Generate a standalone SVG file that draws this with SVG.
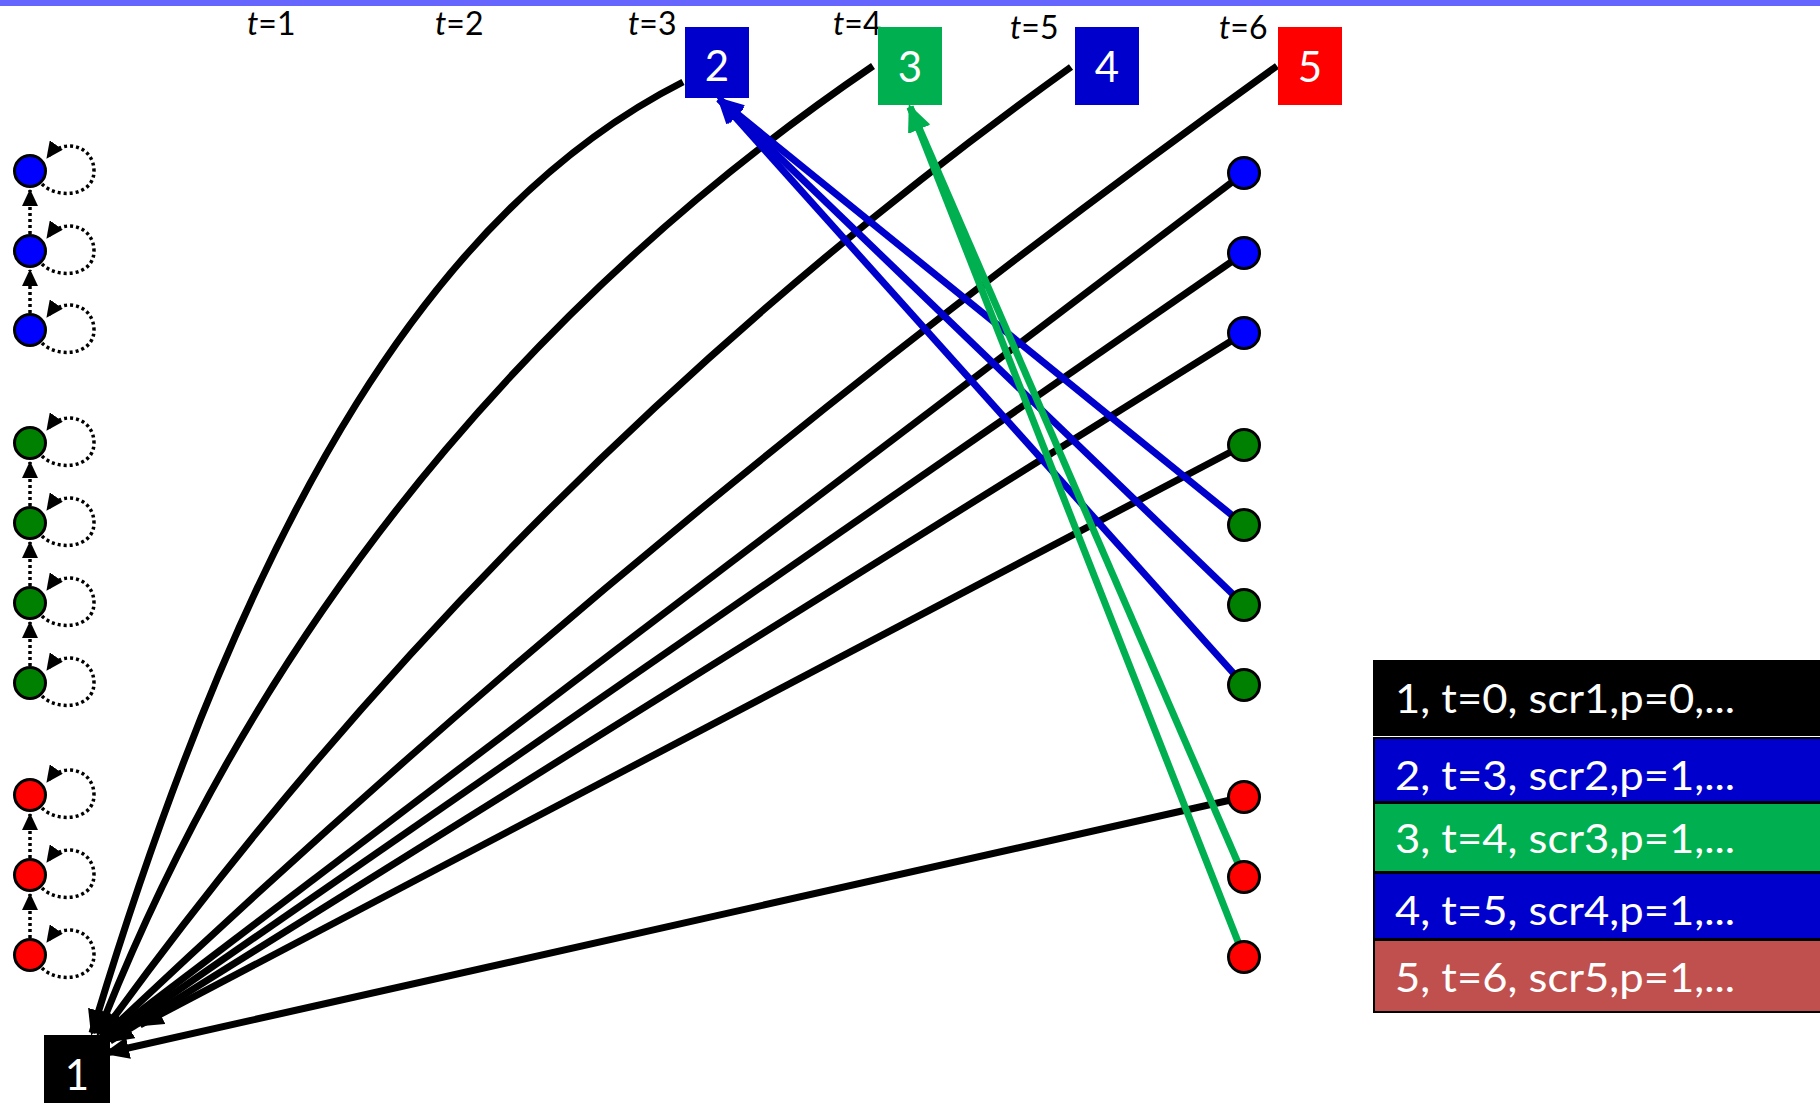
<svg xmlns="http://www.w3.org/2000/svg" xmlns:xlink="http://www.w3.org/1999/xlink" width="1820" height="1103" viewBox="0 0 1820 1103">
<style>
.lbl{font-family:Lato,"Liberation Sans",sans-serif;font-size:32px;fill:#000}
.num{font-family:Lato,"Liberation Sans",sans-serif;font-size:42px;fill:#fff;text-anchor:middle}
.leg{font-family:Lato,"Liberation Sans",sans-serif;font-size:41px;fill:#fff}
.blk{fill:none;stroke:#000;stroke-width:7;marker-end:url(#ab)}
.blu{fill:none;stroke:#0000cc;stroke-width:7;marker-end:url(#au)}
.grn{fill:none;stroke:#00b050;stroke-width:7;marker-end:url(#ag)}
.dot{fill:none;stroke:#000;stroke-width:3.5;stroke-dasharray:3 3;marker-end:url(#as)}
.cb{fill:#0000ff;stroke:#000;stroke-width:3}
.cg{fill:#008000;stroke:#000;stroke-width:3}
.cr{fill:#ff0000;stroke:#000;stroke-width:3}
.row{stroke:#000;stroke-width:2}
</style>
<defs>
<marker id="ab" markerUnits="userSpaceOnUse" markerWidth="26" markerHeight="22" viewBox="0 0 26 22" refX="23" refY="11" orient="auto"><path d="M0,0 L26,11 L0,22 z" fill="#000"/></marker>
<marker id="au" markerUnits="userSpaceOnUse" markerWidth="27" markerHeight="23" viewBox="0 0 27 23" refX="24" refY="11.5" orient="auto"><path d="M0,0 L27,11.5 L0,23 z" fill="#0000cc"/></marker>
<marker id="ag" markerUnits="userSpaceOnUse" markerWidth="27" markerHeight="23" viewBox="0 0 27 23" refX="24" refY="11.5" orient="auto"><path d="M0,0 L27,11.5 L0,23 z" fill="#00b050"/></marker>
<marker id="as" markerUnits="userSpaceOnUse" markerWidth="17" markerHeight="16" viewBox="0 0 17 16" refX="16" refY="8" orient="auto"><path d="M0,0 L17,8 L0,16 z" fill="#000"/></marker>
<path id="loop" class="dot" d="M12,13 C26,28 64,26 64,0 C64,-26 32,-34 17,-13"/>
</defs>
<rect x="0" y="0" width="1820" height="6" fill="#6666ff"/>
<g id="time-labels">
<text class="lbl" x="247" y="35"><tspan font-style="italic">t</tspan>=1</text>
<text class="lbl" x="435" y="35"><tspan font-style="italic">t</tspan>=2</text>
<text class="lbl" x="628" y="35"><tspan font-style="italic">t</tspan>=3</text>
<text class="lbl" x="833" y="35"><tspan font-style="italic">t</tspan>=4</text>
<text class="lbl" x="1010" y="39"><tspan font-style="italic">t</tspan>=5</text>
<text class="lbl" x="1219" y="39"><tspan font-style="italic">t</tspan>=6</text>
</g>
<g id="connectors">
<path class="blk" d="M683,82 C440,205 252,500 92,1033"/>
<path class="blk" d="M873,66 C585,262 280,570 98,1034"/>
<path class="blk" d="M1071,67 Q510,470 101,1035"/>
<path class="blk" d="M1277,66 Q665,505 104,1036"/>
<path class="blk" d="M1244,173 L106,1037"/>
<path class="blk" d="M1244,253 L108,1039"/>
<path class="blk" d="M1244,333 L110,1041"/>
<path class="blk" d="M1244,445 L140,1025"/>
<path class="blk" d="M1244,797 L106,1053"/>
<path class="blu" d="M1244,525 L719,99"/>
<path class="blu" d="M1244,605 L719,99"/>
<path class="blu" d="M1244,685 L719,99"/>
<path class="grn" d="M1244,877 L910,107"/>
<path class="grn" d="M1244,957 L910,107"/>
<path class="dot" d="M30,234 L30,190"/>
<path class="dot" d="M30,313 L30,270"/>
<path class="dot" d="M30,506 L30,462"/>
<path class="dot" d="M30,586 L30,542"/>
<path class="dot" d="M30,666 L30,622"/>
<path class="dot" d="M30,858 L30,814"/>
<path class="dot" d="M30,938 L30,894"/>
<use xlink:href="#loop" x="30" y="171"/>
<use xlink:href="#loop" x="30" y="251"/>
<use xlink:href="#loop" x="30" y="330"/>
<use xlink:href="#loop" x="30" y="443"/>
<use xlink:href="#loop" x="30" y="523"/>
<use xlink:href="#loop" x="30" y="603"/>
<use xlink:href="#loop" x="30" y="683"/>
<use xlink:href="#loop" x="30" y="795"/>
<use xlink:href="#loop" x="30" y="875"/>
<use xlink:href="#loop" x="30" y="955"/>
</g>
<g id="left-states">
<circle class="cb" cx="30" cy="171" r="15.5"/>
<circle class="cb" cx="30" cy="251" r="15.5"/>
<circle class="cb" cx="30" cy="330" r="15.5"/>
<circle class="cg" cx="30" cy="443" r="15.5"/>
<circle class="cg" cx="30" cy="523" r="15.5"/>
<circle class="cg" cx="30" cy="603" r="15.5"/>
<circle class="cg" cx="30" cy="683" r="15.5"/>
<circle class="cr" cx="30" cy="795" r="15.5"/>
<circle class="cr" cx="30" cy="875" r="15.5"/>
<circle class="cr" cx="30" cy="955" r="15.5"/>
</g>
<g id="right-states">
<circle class="cb" cx="1244" cy="173" r="15.5"/>
<circle class="cb" cx="1244" cy="253" r="15.5"/>
<circle class="cb" cx="1244" cy="333" r="15.5"/>
<circle class="cg" cx="1244" cy="445" r="15.5"/>
<circle class="cg" cx="1244" cy="525" r="15.5"/>
<circle class="cg" cx="1244" cy="605" r="15.5"/>
<circle class="cg" cx="1244" cy="685" r="15.5"/>
<circle class="cr" cx="1244" cy="797" r="15.5"/>
<circle class="cr" cx="1244" cy="877" r="15.5"/>
<circle class="cr" cx="1244" cy="957" r="15.5"/>
</g>
<g id="node1"><rect x="44" y="1035" width="66" height="80" fill="#000"/><text class="num" x="77" y="1090">1</text></g>
<g id="node2"><rect x="685" y="27" width="64" height="71" fill="#0000cc"/><text class="num" x="717" y="81">2</text></g>
<g id="node3"><rect x="878" y="27" width="64" height="78" fill="#00b050"/><text class="num" x="910" y="82">3</text></g>
<g id="node4"><rect x="1075" y="27" width="64" height="78" fill="#0000cc"/><text class="num" x="1107" y="82">4</text></g>
<g id="node5"><rect x="1278" y="27" width="64" height="78" fill="#ff0000"/><text class="num" x="1310" y="82">5</text></g>
<g id="legend">
<rect x="1373" y="660" width="460" height="76" fill="#000"/>
<rect class="row" x="1374" y="738" width="460" height="64" fill="#0000cc"/>
<rect class="row" x="1374" y="803" width="460" height="69" fill="#00b050"/>
<rect class="row" x="1374" y="873" width="460" height="66" fill="#0000cc"/>
<rect class="row" x="1374" y="940" width="460" height="72" fill="#c0504d"/>
<text class="leg" x="1395" y="713" textLength="340" lengthAdjust="spacingAndGlyphs">1, t=0, scr1,p=0,...</text>
<text class="leg" x="1395" y="790" textLength="340" lengthAdjust="spacingAndGlyphs">2, t=3, scr2,p=1,...</text>
<text class="leg" x="1395" y="853" textLength="340" lengthAdjust="spacingAndGlyphs">3, t=4, scr3,p=1,...</text>
<text class="leg" x="1395" y="925" textLength="340" lengthAdjust="spacingAndGlyphs">4, t=5, scr4,p=1,...</text>
<text class="leg" x="1395" y="992" textLength="340" lengthAdjust="spacingAndGlyphs">5, t=6, scr5,p=1,...</text>
</g>
</svg>
